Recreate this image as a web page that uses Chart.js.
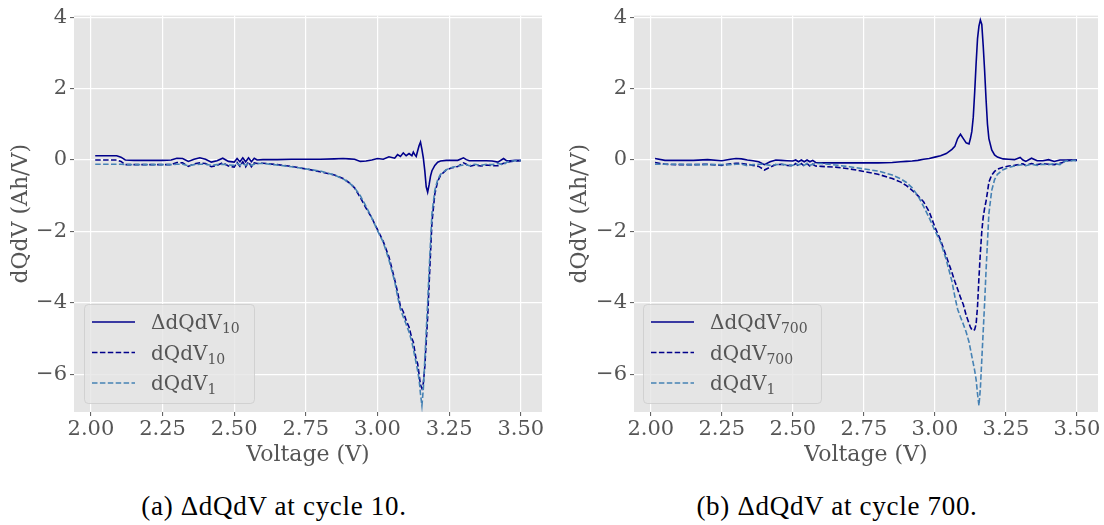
<!DOCTYPE html>
<html>
<head>
<meta charset="utf-8">
<script src="https://cdn.jsdelivr.net/npm/chart.js@4.4.1/dist/chart.umd.min.js"></script>
<style>
  body { margin: 0; background: #ffffff; }
  #page { position: relative; width: 1104px; height: 525px; overflow: hidden; }
  canvas { position: absolute; top: 0; }
  .caption {
    position: absolute; top: 491px; width: 500px; text-align: center;
    font-family: "Liberation Serif", serif; font-size: 27px; line-height: 30px;
    letter-spacing: 0.7px; color: #000;
  }
</style>
</head>
<body>
<div id="page">
  <canvas id="chart10" width="552" height="470" style="left:0px"></canvas>
  <canvas id="chart700" width="552" height="470" style="left:552px"></canvas>
  <div class="caption" style="left:24px">(a) ΔdQdV at cycle 10.</div>
  <div class="caption" style="left:587px">(b) ΔdQdV at cycle 700.</div>
</div>
<script>
// shared voltage grid (V)
const voltage = [2.015, 2.05, 2.09, 2.105, 2.12, 2.15, 2.20, 2.25, 2.28, 2.30,
  2.32, 2.34, 2.36, 2.38, 2.40, 2.42, 2.44, 2.46, 2.48, 2.50,
  2.51, 2.52, 2.53, 2.54, 2.55, 2.56, 2.57, 2.58, 2.60, 2.65,
  2.70, 2.75, 2.80, 2.85, 2.88, 2.90, 2.92, 2.94, 2.96, 2.98,
  3.00, 3.02, 3.04, 3.06, 3.07, 3.08, 3.09, 3.10, 3.11, 3.12,
  3.125, 3.13, 3.135, 3.14, 3.145, 3.15, 3.155, 3.16, 3.165, 3.17,
  3.175, 3.18, 3.185, 3.19, 3.20, 3.21, 3.22, 3.24, 3.26, 3.28,
  3.30, 3.31, 3.32, 3.34, 3.36, 3.38, 3.40, 3.42, 3.44, 3.45,
  3.46, 3.48, 3.50];

// dQdV of cycle 1 (reference curve, both panels)
const dqdvCycle1 = [-0.12, -0.12, -0.12, -0.12, -0.13, -0.13, -0.13, -0.13, -0.13, -0.12,
  -0.12, -0.16, -0.13, -0.12, -0.12, -0.15, -0.13, -0.12, -0.14, -0.15,
  -0.10, -0.14, -0.10, -0.15, -0.10, -0.15, -0.12, -0.10, -0.10, -0.14,
  -0.19, -0.25, -0.31, -0.42, -0.53, -0.63, -0.78, -1.00, -1.30, -1.62,
  -1.98, -2.30, -2.80, -3.40, -3.82, -4.18, -4.40, -4.60, -4.82, -5.10,
  -5.30, -5.50, -5.70, -5.90, -6.15, -6.55, -6.88, -6.40, -5.60, -4.80,
  -4.00, -3.10, -2.30, -1.50, -0.85, -0.55, -0.40, -0.27, -0.21, -0.17,
  -0.14, -0.13, -0.16, -0.12, -0.15, -0.12, -0.13, -0.10, -0.13, -0.07,
  -0.03, -0.02, -0.01];

// cycle 10
const deltaCycle10 = [0.12, 0.12, 0.12, 0.08, 0.00, -0.01, -0.01, -0.01, 0.00, 0.05,
  0.04, -0.04, 0.02, 0.06, 0.02, -0.06, -0.02, 0.05, -0.04, -0.06,
  0.04, -0.05, 0.06, -0.05, 0.06, -0.05, 0.05, 0.00, 0.01, 0.01,
  0.02, 0.02, 0.02, 0.03, 0.04, 0.03, 0.02, -0.04, -0.03, 0.00,
  0.04, 0.02, 0.09, 0.05, 0.15, 0.10, 0.20, 0.12, 0.18, 0.12,
  0.22, 0.15, 0.10, 0.25, 0.40, 0.50, 0.30, 0.05, -0.30, -0.75,
  -0.90, -0.70, -0.45, -0.30, -0.15, -0.06, -0.03, -0.01, -0.01, -0.01,
  0.06, 0.01, -0.02, -0.02, -0.02, -0.02, -0.03, -0.06, 0.04, -0.02,
  -0.02, -0.01, -0.01];

const dqdvCycle10 = [0.00, 0.00, 0.00, -0.04, -0.13, -0.13, -0.13, -0.13, -0.13, -0.07,
  -0.08, -0.18, -0.11, -0.08, -0.10, -0.19, -0.15, -0.08, -0.17, -0.20,
  -0.07, -0.18, -0.05, -0.19, -0.05, -0.19, -0.08, -0.10, -0.09, -0.13,
  -0.18, -0.25, -0.33, -0.42, -0.52, -0.63, -0.78, -1.05, -1.35, -1.62,
  -1.95, -2.28, -2.72, -3.35, -3.70, -4.10, -4.25, -4.50, -4.68, -5.00,
  -5.10, -5.35, -5.60, -5.70, -6.00, -6.30, -6.40, -6.25, -5.80, -5.10,
  -4.40, -3.50, -2.60, -1.75, -0.95, -0.60, -0.43, -0.28, -0.22, -0.18,
  -0.08, -0.12, -0.18, -0.14, -0.17, -0.14, -0.16, -0.16, -0.09, -0.09,
  -0.05, -0.03, -0.02];

// cycle 700
const deltaCycle700 = [0.04, -0.01, -0.01, -0.01, -0.01, -0.01, 0.01, -0.02, 0.02, 0.04,
  0.03, 0.00, -0.02, -0.05, -0.13, -0.05, 0.00, -0.01, -0.02, -0.03,
  0.00, -0.05, 0.00, -0.05, 0.00, -0.05, -0.01, -0.07, -0.08, -0.08,
  -0.08, -0.08, -0.08, -0.07, -0.05, -0.04, -0.03, -0.01, 0.02, 0.04,
  0.08, 0.12, 0.18, 0.30, 0.38, 0.60, 0.72, 0.60, 0.48, 0.45,
  0.60, 0.80, 1.20, 1.90, 2.70, 3.40, 3.75, 3.92, 3.80, 3.20,
  2.50, 1.70, 1.00, 0.60, 0.28, 0.14, 0.08, 0.03, 0.02, 0.01,
  0.07, 0.00, -0.04, 0.05, -0.02, -0.02, 0.01, -0.04, 0.00, 0.00,
  0.00, 0.00, 0.00];

const dqdvCycle700 = [-0.07, -0.12, -0.13, -0.13, -0.13, -0.13, -0.12, -0.15, -0.11, -0.09,
  -0.10, -0.12, -0.15, -0.18, -0.28, -0.20, -0.13, -0.12, -0.15, -0.16,
  -0.10, -0.17, -0.10, -0.17, -0.10, -0.17, -0.12, -0.17, -0.18, -0.20,
  -0.25, -0.32, -0.40, -0.52, -0.62, -0.72, -0.85, -1.00, -1.17, -1.45,
  -1.88, -2.25, -2.70, -3.15, -3.40, -3.62, -3.85, -4.05, -4.35, -4.58,
  -4.68, -4.75, -4.78, -4.75, -4.60, -4.10, -3.30, -2.60, -2.00, -1.60,
  -1.35, -1.15, -0.90, -0.62, -0.42, -0.32, -0.26, -0.20, -0.17, -0.15,
  -0.12, -0.11, -0.15, -0.10, -0.13, -0.10, -0.12, -0.13, -0.09, -0.07,
  -0.02, -0.01, -0.01];

const voltageTicks = [2.00, 2.25, 2.50, 2.75, 3.00, 3.25, 3.50];
const dqdvTicks = [-6, -4, -2, 0, 2, 4];

const legendCycle10 = [["ΔdQdV", "10"], ["dQdV", "10"], ["dQdV", "1"]];
const legendCycle700 = [["ΔdQdV", "700"], ["dQdV", "700"], ["dQdV", "1"]];

const NAVY = "#00008B";
const STEEL = "#4682B4";
const GREY = "#555555";

Chart.defaults.font.family = "DejaVu Serif";
Chart.defaults.color = GREY;

function toPoints(ys) {
  return voltage.map((v, i) => ({ x: v, y: ys[i] }));
}

// grey panel behind the grid
const panelBg = {
  id: "panelBg",
  beforeDraw(chart) {
    const { ctx, chartArea: a } = chart;
    ctx.save();
    ctx.fillStyle = "#E5E5E5";
    ctx.fillRect(a.left, a.top, a.right - a.left, a.bottom - a.top);
    ctx.restore();
  }
};

// matplotlib-like legend box with subscripts, lower left
const boxLegend = {
  id: "boxLegend",
  afterDatasetsDraw(chart, args, opts) {
    const { ctx, chartArea: a } = chart;
    const x0 = a.left + opts.offsetX, w = opts.width, h = 99;
    const y0 = a.bottom - 9 - h;
    ctx.save();
    ctx.beginPath();
    ctx.roundRect(x0 + 0.5, y0 + 0.5, w, h, 4);
    ctx.fillStyle = "rgba(229,229,229,0.8)";
    ctx.fill();
    ctx.strokeStyle = "rgba(204,204,204,0.8)";
    ctx.lineWidth = 1;
    ctx.stroke();
    chart.data.datasets.forEach((ds, i) => {
      const cy = y0 + 18 + i * 30.5;
      ctx.beginPath();
      ctx.strokeStyle = ds.borderColor;
      ctx.lineWidth = ds.borderWidth;
      ctx.setLineDash(ds.borderDash || []);
      ctx.moveTo(x0 + 8, cy);
      ctx.lineTo(x0 + 51, cy);
      ctx.stroke();
      ctx.setLineDash([]);
      const [main, sub] = opts.labels[i];
      ctx.fillStyle = GREY;
      ctx.textBaseline = "alphabetic";
      ctx.textAlign = "left";
      ctx.font = "20px 'DejaVu Serif'";
      ctx.fillText(main, x0 + 67, cy + 7);
      const mw = ctx.measureText(main).width;
      ctx.font = "14px 'DejaVu Serif'";
      ctx.fillText(sub, x0 + 67 + mw, cy + 11);
    });
    ctx.restore();
  }
};

function makeChart(id, delta, dqdvN, labels, lay) {
  const ctx = document.getElementById(id).getContext("2d");
  return new Chart(ctx, {
    type: "line",
    data: {
      datasets: [
        { label: labels[0].join(""), data: toPoints(delta), borderColor: NAVY, borderWidth: 1.6, order: 3 },
        { label: labels[1].join(""), data: toPoints(dqdvN), borderColor: NAVY, borderWidth: 1.6, borderDash: [5.5, 2.4], order: 2 },
        { label: labels[2].join(""), data: toPoints(dqdvCycle1), borderColor: STEEL, borderWidth: 1.6, borderDash: [5.5, 2.4], order: 1 }
      ]
    },
    options: {
      responsive: false,
      animation: false,
      devicePixelRatio: 1,
      layout: { padding: { top: 12, right: lay.padRight, bottom: 0, left: 0 } },
      elements: { point: { radius: 0 }, line: { tension: 0, fill: false } },
      plugins: {
        legend: { display: false },
        tooltip: { enabled: false },
        boxLegend: { offsetX: lay.legendX, width: lay.legendW, labels: labels }
      },
      scales: {
        x: {
          type: "linear",
          min: 1.941, max: 3.574,
          afterBuildTicks: s => { s.ticks = voltageTicks.map(v => ({ value: v })); },
          afterFit: s => { s.height = 58; },
          ticks: { font: { size: 21 }, color: GREY, padding: 1, maxRotation: 0,
                   callback: v => v.toFixed(2) },
          grid: { color: "#FFFFFF", lineWidth: 1.2, tickColor: GREY, tickLength: 4, tickWidth: 1 },
          border: { display: false },
          title: { display: true, text: "Voltage (V)", font: { size: 22 }, color: GREY,
                   padding: { top: 0, bottom: 2 } }
        },
        y: {
          type: "linear",
          min: -7.06, max: 4.045,
          afterBuildTicks: s => { s.ticks = dqdvTicks.map(v => ({ value: v })); },
          afterFit: s => { s.width = lay.yWidth; },
          ticks: { font: { size: 21 }, color: GREY, padding: 3,
                   callback: v => (v < 0 ? "\u2212" + Math.abs(v) : String(v)) },
          grid: { color: "#FFFFFF", lineWidth: 1.2, tickColor: GREY, tickLength: 4, tickWidth: 1 },
          border: { display: false },
          title: { display: true, text: "dQdV (Ah/V)", font: { size: 22 }, color: GREY,
                   padding: { top: lay.titlePad, bottom: 0 } }
        }
      }
    },
    plugins: [panelBg, boxLegend]
  });
}

makeChart("chart10", deltaCycle10, dqdvCycle10, legendCycle10,
  { yWidth: 74, padRight: 10, titlePad: 8, legendX: 10, legendW: 170 });
makeChart("chart700", deltaCycle700, dqdvCycle700, legendCycle700,
  { yWidth: 82, padRight: 6, titlePad: 15, legendX: 9, legendW: 178 });
</script>
</body>
</html>
